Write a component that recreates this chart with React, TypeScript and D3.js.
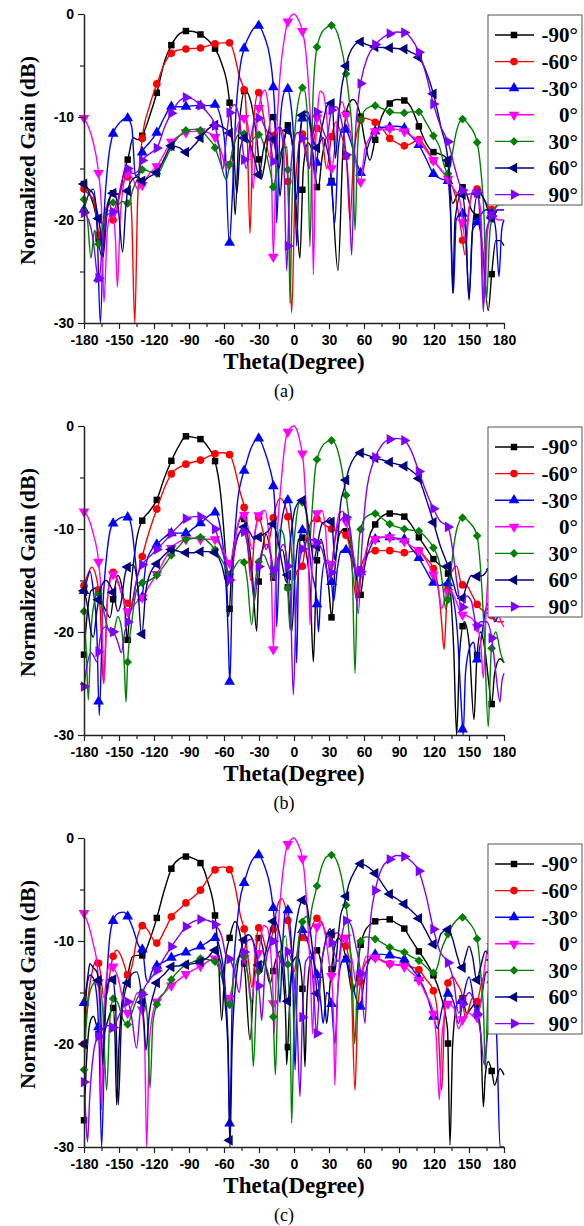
import React, { useEffect, useRef } from 'react';
import * as d3 from 'd3';

type Pt = [number, number];

// ---- panel (a) ----
const aM90: Pt[] = [[-180,-16.5],[-175,-17.5],[-170,-19.4],[-165,-23.5],[-160,-18.5],[-155,-17.4],[-150,-17.5],[-146,-15.5],[-142,-13.9],[-138,-12],[-134,-12.2],[-130,-11.8],[-124,-10],[-117,-7.4],[-111,-4.6],[-105,-3.0],[-98,-1.9],[-92,-1.65],[-86,-1.7],[-80,-2.0],[-74,-2.5],[-68,-3.3],[-62,-4.8],[-56,-7.8],[-53,-12],[-50.5,-19.5],[-47,-11],[-42,-7.4],[-37,-8.5],[-32,-12],[-28,-16],[-25,-14.5],[-19,-9.8],[-15,-12],[-12,-17.7],[-9,-13],[-5,-10.8],[-1,-13],[2,-19],[5,-23.7],[8,-15],[12,-12.5],[16,-13.5],[20.6,-17.1],[24,-14],[28,-12],[32,-16],[37.7,-24.9],[42,-13],[46,-9],[50.6,-8.3],[56.6,-9.7],[61,-12.5],[65,-14.2],[69.4,-12.3],[75,-10],[82,-8.7],[88,-8.3],[94.6,-8.4],[100,-9],[107,-10.9],[113,-12.5],[119.4,-13.4],[125,-13.6],[131,-14],[136,-18.4],[140,-17.5],[144,-16.8],[148,-17.5],[152,-19],[156.6,-19.6],[161,-22],[166.5,-28.8],[169.4,-25.3],[173,-22],[176.6,-22],[180,-22.5]];
const aM60: Pt[] = [[-180,-17],[-176,-17.5],[-172,-18],[-169,-20],[-166,-22.4],[-162,-19],[-158,-18.5],[-155,-20],[-151,-18.5],[-147,-16.5],[-142,-15.8],[-139,-20],[-136.5,-30],[-134,-18],[-130,-12],[-124,-9],[-117,-6.6],[-111,-4.8],[-105,-3.8],[-99,-3.5],[-92.6,-3.4],[-86,-3.35],[-80,-3.3],[-74,-3.1],[-68,-2.9],[-61,-2.8],[-55,-2.8],[-51,-4],[-47,-6],[-42,-7.8],[-40,-12],[-37.7,-21.3],[-35,-11],[-30.6,-7.6],[-26,-10],[-21,-13.9],[-17,-11.5],[-12,-11],[-8,-12.5],[-5,-17],[-2,-29],[1,-17],[6.6,-11.6],[10,-13],[13,-15],[16,-13],[19.4,-11.1],[24,-12],[28,-15],[32,-12],[36,-10.5],[40,-11.5],[45,-14.2],[48,-20],[51,-14],[55,-11],[59,-10.1],[64,-10.2],[69.4,-10.5],[76,-11.2],[82.3,-12.1],[88,-12.5],[94.6,-12.8],[100,-12.6],[107,-12.2],[113,-13],[119.4,-14.2],[125,-15],[132,-16.1],[138,-17.5],[143.7,-21.3],[146.6,-23.4],[150,-19],[153.7,-17.1],[158,-17],[163,-18],[169.4,-19],[175,-18.5],[180,-18]];
const aM30: Pt[] = [[-180,-19],[-176,-17.5],[-172,-17],[-169,-20],[-166,-30],[-163,-20],[-159,-14],[-155,-11.6],[-149,-10.5],[-143,-10.1],[-139,-11],[-136,-15.7],[-133,-15.5],[-130,-13.4],[-124,-12.5],[-117,-11.4],[-111,-10],[-105,-9.0],[-98,-9],[-92.6,-9.0],[-86,-8.9],[-80,-8.9],[-74,-8.9],[-68,-8.8],[-63,-10],[-59,-13],[-55.5,-22.3],[-53,-18],[-50,-10],[-46,-5],[-42.6,-3.3],[-37,-1.8],[-31,-1.1],[-25,-2.3],[-21,-4],[-17.7,-7.2],[-16,-11],[-14.9,-20.3],[-12,-11],[-9,-7.8],[-6,-7.2],[-3,-8.5],[0,-13],[2.3,-22.5],[5,-12],[8.6,-9.8],[12,-10],[15,-12],[18,-16],[21,-13],[25,-12],[28,-13],[31,-14.7],[35,-20.3],[38,-13],[42,-11],[45,-11.3],[49,-12.5],[54,-14.5],[58,-15.5],[63,-13],[69.4,-11.4],[76,-11],[82.3,-11],[88,-10.9],[94.6,-11.1],[100,-11.8],[107,-12.7],[113,-14],[119.4,-15.5],[126,-16],[131.9,-16.2],[134,-19],[136.6,-27.1],[139,-20],[143.7,-19.3],[147,-21],[150,-27.6],[153,-21],[156.6,-20.3],[160,-19.5],[165,-19],[170,-19.5],[173,-21],[175.7,-25.5],[178,-21],[180,-20]];
const aZero: Pt[] = [[-180,-10.1],[-176,-11],[-172,-12.5],[-168,-15],[-165,-19],[-162.9,-28],[-160,-21],[-156,-19],[-153,-22],[-151.4,-26.5],[-149,-20],[-146,-16.5],[-142.6,-15.5],[-138,-16],[-134,-17],[-130,-16.6],[-124,-15.5],[-117,-14.7],[-111,-13.5],[-105,-12.4],[-98,-11.8],[-92.6,-11.5],[-86,-11.4],[-80,-11.4],[-74,-11.5],[-68,-11.9],[-62,-13.5],[-58,-15],[-55,-14.5],[-50,-11.5],[-46,-10.3],[-42,-10.1],[-38,-12],[-35,-17],[-32,-11],[-28,-8],[-25,-7.4],[-22,-9],[-19.5,-14],[-17.7,-23.6],[-15,-12],[-12,-6],[-8,-2.2],[-5,-0.65],[0,0],[4,-0.6],[7.1,-1.6],[10,-3.5],[13,-8],[15,-13],[16.6,-25.3],[18.5,-13],[20.5,-9],[22.3,-7.5],[25,-7.7],[28,-10],[30,-13],[32.3,-15],[35,-13],[38,-9.5],[41,-8.5],[44,-9.5],[47,-11],[51,-13],[56.6,-16.4],[61,-13],[65,-12],[69.4,-11.4],[76,-11.2],[82.3,-11.1],[88,-11.2],[94.6,-11.4],[100,-11.8],[107,-12.3],[113,-13.2],[119.4,-14.2],[125,-15],[132,-16],[137,-17],[142,-18],[147,-22],[150,-19],[155,-17],[160,-19],[163,-28],[166,-21],[170,-19.5],[175,-20],[180,-20]];
const aP30: Pt[] = [[-180,-18],[-177,-20],[-174,-23.7],[-171,-21],[-167,-22.4],[-163,-20],[-159,-18.5],[-155,-18.3],[-151,-18.5],[-147,-18.2],[-142,-18.4],[-138,-17],[-134,-16],[-130,-15.1],[-124,-15.3],[-117,-15.5],[-111,-14.3],[-105,-12.9],[-98,-11.8],[-92.6,-11.3],[-86,-11.2],[-80,-11.3],[-74,-12],[-68,-12.9],[-63,-14.5],[-58,-16.1],[-55,-14.5],[-51,-12.5],[-46,-11.5],[-42,-11.7],[-38,-12.5],[-34,-12],[-30,-11.7],[-25,-13],[-20,-15.5],[-17.7,-16.8],[-13,-14],[-9,-13],[-6,-12.9],[-4.5,-20],[-3.4,-28.1],[-2,-20],[0,-13],[3,-9],[8,-7.1],[11,-9],[13.7,-22.6],[16,-9],[18.9,-3.8],[23,-2],[28,-1.3],[32.3,-1.1],[37,-1.8],[40,-3],[43.7,-5.1],[47,-8],[50,-12],[52.3,-21],[54.5,-13],[56.6,-10.5],[62,-9.2],[69.4,-8.9],[76,-9.2],[82.3,-9.5],[88,-9.6],[94.6,-9.6],[100,-9.5],[107,-9.5],[113,-10.5],[119.4,-11.8],[125,-13],[129,-14.8],[132,-15.5],[135,-14],[139,-11.5],[144.6,-10.2],[150,-10.8],[156.6,-12.3],[160,-15],[163,-20],[165,-27.8],[168,-21],[172,-19],[176,-18.5],[180,-18.5]];
const aP60: Pt[] = [[-180,-16.5],[-176,-17],[-172,-17.5],[-169,-19],[-166,-21],[-163.7,-23.6],[-160,-19],[-155,-17.4],[-151,-18.5],[-146.9,-23.1],[-144,-18.5],[-142.6,-17.2],[-138,-16],[-134,-15.8],[-130,-16.2],[-124,-15.8],[-117,-15.3],[-111,-14],[-105,-12.8],[-98,-13],[-92.6,-13.4],[-86,-12.8],[-80,-12.0],[-74,-11.2],[-68,-10.8],[-61,-11],[-55,-11.6],[-52,-13],[-49,-17.4],[-46,-13],[-42,-12],[-38,-12.5],[-34,-14],[-30,-15.6],[-26,-13],[-21,-11.5],[-17,-12.5],[-13,-15],[-10,-13],[-5,-11.3],[-1,-13],[2,-18],[5,-12],[8,-9.6],[12,-9.5],[16,-12],[20,-13],[24,-11],[28,-9],[31,-8.5],[33,-9],[35.5,-14],[38,-10.5],[41,-7],[43,-5.9],[47,-4],[52,-3],[56.6,-2.7],[63,-3],[69.4,-3.2],[76,-3.25],[82.3,-3.3],[88,-3.35],[94.6,-3.4],[100,-3.7],[107,-4.2],[113,-5.5],[119.4,-7.7],[126,-11],[132,-14.2],[134,-18],[136,-27.1],[138,-20],[143.7,-17.4],[147,-20],[150,-27.8],[153,-21],[158,-17.3],[163,-18],[169.4,-19.8],[175,-19],[180,-19]];
const aP90: Pt[] = [[-180,-19.3],[-176,-20],[-172,-22],[-169,-25],[-167,-25.7],[-164,-22],[-160,-19.5],[-155,-19.2],[-151,-18],[-147,-16],[-142.6,-15],[-138,-15.5],[-134,-15.3],[-130,-14.2],[-124,-13.6],[-117,-12.9],[-111,-11],[-105,-9.6],[-98,-8.4],[-92,-8.1],[-86,-8.3],[-80,-8.9],[-74,-9.6],[-68,-10.7],[-64,-13],[-61,-15.1],[-58,-12],[-55,-9.5],[-51,-8.8],[-47,-10],[-44,-13],[-41,-15],[-37,-12],[-33,-10.2],[-29,-10.1],[-25,-11],[-21,-12],[-17,-14.5],[-13,-11],[-9,-13],[-6.3,-24.9],[-4,-17.7],[-1,-13],[3,-11.5],[6.6,-11.9],[10,-13.5],[13,-15],[16,-12],[20,-9.5],[24,-11],[28,-12],[32.3,-9.3],[36,-9],[40,-10],[44,-13],[47,-17],[49.4,-23.4],[52,-13],[55,-8.5],[58,-6.2],[63,-4.2],[69.4,-3.0],[76,-2.3],[82.3,-1.9],[88,-1.75],[94.6,-1.8],[100,-2.3],[107,-3.7],[113,-5.8],[119.4,-8.7],[126,-11],[132,-12.4],[138,-15],[143.7,-17],[150,-17.5],[156.6,-17.3],[160,-21],[162.3,-28.9],[165,-21],[170,-19.5],[175,-19],[180,-19]];

// ---- panel (b) ----
const bM90: Pt[] = [[-180,-22.2],[-177,-18],[-174,-16],[-169,-15.7],[-165,-17],[-161,-18],[-157.7,-18.6],[-154,-16],[-151,-14.5],[-147,-16],[-144,-19],[-142.9,-20.9],[-140,-16],[-137.7,-13.4],[-134,-10.5],[-129.7,-9.1],[-124,-8.3],[-117.7,-7.2],[-111,-5],[-104.8,-3.3],[-98,-1.8],[-92.6,-1.0],[-86,-1.1],[-79.7,-1.3],[-74,-2],[-67.7,-3.4],[-63,-6.5],[-59,-12],[-56,-18.5],[-53,-13],[-49,-10],[-44,-8.8],[-40,-10.5],[-36,-14],[-32,-19.9],[-30.6,-15.8],[-27,-12],[-24,-10.5],[-20.6,-11.9],[-17,-15],[-14,-13],[-10,-12],[-7.7,-13.1],[-5,-16],[-2,-20],[1,-14],[4,-11],[6.6,-10.8],[10,-12],[14,-16],[16.6,-22.9],[19.4,-13.4],[23,-11],[27,-13],[30,-16],[32.3,-18.6],[35,-14],[39,-10.5],[43,-10],[47,-11],[51,-13],[54,-15],[56.6,-16.5],[60,-14],[64,-11],[69.4,-9.6],[75,-8.8],[81.7,-8.5],[88,-8.55],[94.6,-8.8],[100,-9.5],[107,-10.8],[113,-11.8],[119.4,-12.9],[125,-13.5],[130.9,-14.0],[134,-16],[137,-22],[139.4,-30],[142,-22],[146,-19],[150,-21],[154.3,-28.5],[156.6,-22.8],[160,-20],[164,-22],[167,-25],[169.4,-27],[172,-24],[176.6,-22.6],[180,-23]];
const bM60: Pt[] = [[-180,-15.5],[-177,-14.5],[-173.4,-13.7],[-169,-14.9],[-166,-18],[-163.4,-25],[-160,-17],[-157,-14.5],[-154.9,-14.2],[-151,-15],[-147,-16.5],[-142.6,-17.2],[-140,-17.5],[-136,-15.5],[-129.7,-12.5],[-124,-10.2],[-117.7,-8.1],[-111,-6],[-104.8,-4.6],[-98,-4],[-92.6,-3.7],[-86,-3.5],[-79.7,-3.3],[-74,-3],[-67.7,-2.7],[-61,-2.6],[-54.9,-2.8],[-50,-4.5],[-46,-6.5],[-42.6,-8.0],[-40,-11],[-37,-15],[-34,-11],[-30.6,-8.9],[-27,-10],[-24,-12],[-21,-11],[-17,-8.5],[-12,-7.0],[-6.3,-8.2],[-3,-11],[0,-15],[3,-14],[6.6,-13.8],[10,-11.5],[14,-9.5],[19.4,-9.0],[25,-9.5],[32.3,-10.0],[38,-10.2],[44.6,-10.6],[48,-12],[51,-15],[54,-17],[57,-14],[62,-12.5],[69.4,-12.1],[76,-12.1],[81.7,-12.1],[88,-12.2],[94.6,-12.3],[100,-12.2],[107,-12.1],[113,-12.8],[119.4,-13.8],[124,-16],[126.5,-19],[128.6,-21.7],[131,-17],[134,-14.5],[139.4,-13.6],[143.7,-15.4],[148,-15.5],[153,-16.5],[158,-17.5],[163,-18],[169.4,-18.4],[175,-19],[180,-19]];
const bM30: Pt[] = [[-180,-16],[-177,-14.8],[-174.9,-14.1],[-172,-16],[-169,-20],[-166.9,-28.1],[-164,-18],[-160,-12],[-156.3,-9.7],[-150,-9],[-145,-8.8],[-142,-8.9],[-139,-10],[-136,-13],[-133,-16.5],[-131,-17],[-127,-13.5],[-122,-12],[-117.7,-11.5],[-111,-10.8],[-104.8,-10.4],[-98,-10.4],[-92.6,-10.4],[-86,-9.9],[-79.7,-9.4],[-74,-8.8],[-67.7,-8.4],[-63,-10],[-59,-14],[-56.5,-20],[-55,-25],[-53,-16],[-49,-8],[-45,-5.2],[-42.6,-4.3],[-37,-2.2],[-30.6,-1.2],[-25,-2.5],[-21,-4],[-17.7,-5.9],[-16,-9],[-14.9,-19.5],[-12,-11],[-8,-7.8],[-4.9,-7.2],[-2,-9],[0,-13],[2.3,-23],[4,-13],[6.6,-10.2],[9,-10],[12,-11],[15,-14],[19.4,-16.8],[21,-20],[23,-16],[27,-13],[32,-15],[34,-17],[37,-14],[40,-12.2],[43.7,-12.0],[48,-12.5],[53,-14],[58,-14.2],[63,-12.5],[69.4,-11.0],[76,-10.8],[81.7,-10.8],[88,-10.9],[94.6,-11.0],[100,-11.8],[107,-12.8],[113,-14],[119.4,-15.2],[125,-15.5],[131,-15.2],[136,-16.5],[140,-20],[143.7,-27.8],[145,-30],[147,-24],[150.9,-21.4],[154,-21],[156.6,-22.7],[160,-21],[164,-18],[168,-17],[172,-19],[176.6,-18],[180,-17.5]];
const bZero: Pt[] = [[-180,-8.3],[-176,-9],[-172,-10.5],[-167.7,-13],[-165,-17],[-162.9,-25],[-160,-17],[-157,-14.8],[-154.9,-14.4],[-150,-15.5],[-146,-17],[-142.6,-18],[-138,-17.5],[-134,-17],[-129.7,-16.6],[-124,-15.5],[-117.7,-14.4],[-111,-13],[-104.8,-11.8],[-98,-11.2],[-92.6,-11],[-86,-10.9],[-79.7,-11],[-74,-11],[-67.7,-11],[-61,-12],[-54.9,-13.3],[-52,-12],[-48,-9.5],[-44,-8.5],[-40,-9.5],[-36,-12],[-33,-10],[-29,-8.4],[-25,-8.2],[-22,-10],[-19.5,-14],[-17.7,-21.7],[-15,-12],[-11,-5.5],[-8,-2],[-5.7,-0.65],[0,0],[5.1,-1.5],[8,-3.5],[10.5,-8],[12.5,-13],[13.7,-19.3],[16,-12],[19,-8.6],[23.7,-8.2],[27,-10],[29,-13],[32.3,-13.4],[35,-11],[39,-8.4],[42,-8.3],[46,-10],[50,-12],[54,-14],[58,-14.4],[62,-12],[69.4,-11],[76,-10.8],[81.7,-10.8],[88,-11],[94.6,-11.2],[100,-11.6],[107,-12.1],[113,-13],[119.4,-14.4],[124,-16],[126.6,-17.7],[130,-16.5],[134,-16],[139,-17],[143.7,-18.3],[150,-18.5],[156.6,-19.4],[160,-21],[162.3,-24.5],[165,-17],[168,-13],[171,-14],[175,-18],[180,-19.5]];
const bP30: Pt[] = [[-180,-18],[-178,-22],[-176.3,-26.6],[-174,-20],[-171,-17],[-168.6,-16.2],[-165,-17],[-161,-19],[-158,-20],[-154.9,-20],[-151,-18.5],[-148,-19.5],[-145.5,-23],[-144,-26.8],[-142.6,-23],[-139,-19],[-135,-16],[-129.7,-15.2],[-124,-15],[-117.7,-14.5],[-111,-13.5],[-104.8,-12.5],[-98,-11.6],[-92.6,-11],[-86,-10.9],[-79.7,-10.8],[-74,-11.2],[-67.7,-12],[-61,-13.2],[-54.9,-14.4],[-50,-13.5],[-46,-13],[-43.4,-13.1],[-40,-15],[-36.3,-19.3],[-33,-15],[-30.6,-13.3],[-26,-12.5],[-22,-13.5],[-17.7,-14.4],[-15,-12],[-12,-10],[-9,-10.5],[-6,-14],[-3.4,-19.8],[-1,-13],[2,-9],[5.1,-7.3],[8,-7.5],[11,-9],[13,-12],[15,-9],[18.6,-3.9],[24,-2],[28,-1.55],[32.3,-1.4],[37,-2.2],[42.9,-5.5],[47,-9],[50,-14],[52.3,-24],[54.5,-14],[56.6,-10.3],[62,-8.8],[69.4,-8.5],[76,-9],[81.7,-9.5],[88,-9.8],[94.6,-10],[100,-10.1],[107,-10.2],[113,-10.8],[119.4,-11.8],[125,-13.5],[128,-16],[130,-17.8],[133,-16],[136,-12.5],[140,-9.8],[144.6,-8.9],[150,-9.3],[156.6,-10.5],[160,-14],[163,-20],[166.5,-29.2],[169,-22],[173,-20],[177,-22],[180,-23]];
const bP60: Pt[] = [[-180,-16],[-177,-17.5],[-174,-20],[-172,-20.5],[-169,-18],[-165,-15.5],[-161,-15],[-157.5,-15.5],[-154.9,-16.2],[-151,-18],[-148,-17],[-145,-14.5],[-142.6,-13.7],[-138,-13.5],[-134,-15.5],[-130.6,-20.4],[-127,-16],[-122,-14],[-117.7,-13.4],[-111,-12.5],[-104.8,-12],[-98,-12.2],[-92.6,-12.3],[-86,-12.3],[-79.7,-12.2],[-74,-12.2],[-67.7,-12.3],[-62,-13.5],[-57,-15.5],[-54,-14],[-50,-11.5],[-46,-10.2],[-42,-9.8],[-38,-10.3],[-34,-11],[-30.6,-10.8],[-26,-10.5],[-22,-10.2],[-18,-9.5],[-14,-11],[-10,-13.5],[-6.3,-15.2],[-3,-11],[1,-8],[6.6,-7.2],[10,-8],[14,-11],[17,-13],[20,-11.5],[24,-9.5],[28,-9.2],[30.9,-8.9],[33,-10],[35,-13],[37.5,-11],[40,-7.5],[42.9,-6.1],[47,-4.2],[52,-3],[56.6,-2.6],[62,-2.8],[69.4,-3.1],[76,-3.3],[81.7,-3.5],[88,-3.7],[94.6,-3.9],[100,-4.3],[107,-5.1],[113,-7],[119.4,-9.3],[125,-11.5],[132,-13.6],[136,-15],[140,-16.5],[143.7,-16.8],[148,-15.5],[152,-14.5],[156.6,-14.6],[162,-14.5],[166,-14],[169.4,-13.9],[173,-14.5],[177,-16.5],[180,-17]];
const bP90: Pt[] = [[-180,-25.3],[-177,-23],[-174,-22],[-171,-22.5],[-169,-22.9],[-166,-20.5],[-162,-19.5],[-158,-19.8],[-154.9,-20],[-151,-21],[-148,-22],[-145,-20],[-142,-18.8],[-138,-17],[-134,-14.5],[-129.7,-13.4],[-124,-12.7],[-117.7,-12],[-111,-11.2],[-104.8,-10.4],[-98,-9.6],[-92.6,-9],[-86,-8.8],[-79.7,-8.8],[-74,-9.2],[-67.7,-10],[-62,-12],[-57,-14],[-54.9,-15],[-52,-13],[-48,-10.5],[-43.4,-10.2],[-40,-11.5],[-37,-14],[-34,-17],[-30.6,-13.9],[-27,-12],[-23,-11.5],[-19,-13],[-16,-15],[-13,-12.5],[-9,-11.5],[-6,-13],[-3,-17],[-0.6,-26.1],[2,-17],[5,-13],[9,-11.5],[13,-11],[19.4,-11.3],[24,-12],[28,-14],[31,-15],[34,-12],[38,-9.5],[43.7,-8.8],[48,-10],[52,-14],[55.1,-18.2],[58,-12],[62,-6.5],[69.4,-3.1],[75,-1.9],[81.7,-1.3],[88,-1.2],[94.6,-1.4],[100,-2.3],[107,-4.4],[113,-6.3],[119.4,-8.0],[125,-9.2],[132,-9.8],[136,-12],[140,-15.5],[143.7,-17.7],[148,-16.5],[152,-17],[156.6,-19.4],[160,-19],[165,-19],[170,-21],[173,-24],[176.6,-26.8],[178,-25],[180,-24]];

// ---- panel (c) ----
const cM90: Pt[] = [[-180,-27.4],[-178,-22],[-175,-18],[-172,-17.3],[-169,-18.3],[-166,-19.5],[-163,-19],[-159,-17.5],[-155,-16.5],[-153.5,-19],[-152,-25.9],[-150,-20],[-147,-15.5],[-142.6,-13.3],[-138.3,-11.5],[-134,-11.4],[-129.7,-11.4],[-124,-10],[-117.7,-7.8],[-111,-5],[-104.8,-2.9],[-98,-2],[-92.6,-1.8],[-86,-2],[-79.7,-2.5],[-74,-4.2],[-67.7,-7.5],[-65,-11],[-62,-17.7],[-59,-12],[-55.4,-9.8],[-50.6,-8.1],[-46,-9.5],[-42,-13],[-37.7,-19.6],[-34,-13],[-30.6,-9.7],[-27,-10.5],[-24,-12.5],[-20.6,-14.1],[-16,-12],[-12,-11],[-9,-14],[-7,-18],[-6.3,-22],[-4,-16.7],[-1,-12],[3,-11.5],[6.6,-13.5],[8,-17],[9.4,-22.2],[11,-16],[14,-12],[19.4,-10.9],[23,-12],[26,-15],[28,-18],[31,-14],[35,-10.5],[38,-9.7],[42,-10.5],[46,-12.5],[50,-15],[53,-14],[56.6,-10.7],[62,-8.8],[69.4,-8.1],[75,-7.9],[81.7,-7.9],[88,-8.3],[94.6,-8.8],[100,-9.8],[106.4,-10.9],[113,-12],[119.4,-13.3],[125,-15],[131.6,-18.6],[133.7,-29.8],[136,-20],[140,-16],[144,-15.5],[148,-17],[152,-16.5],[156,-16],[160,-19],[162.3,-26.1],[164,-23],[166.5,-21.7],[169.4,-22.6],[172,-24],[176.6,-22.4],[180,-23]];
const cM60: Pt[] = [[-180,-20],[-177,-16],[-173,-13],[-169,-11.8],[-166,-13],[-163,-15.5],[-160,-15],[-157,-12.5],[-152,-10.9],[-148,-11.5],[-145,-12.5],[-142.6,-13.3],[-139,-12.5],[-135,-10],[-129.7,-8.5],[-125,-9],[-121,-9.8],[-117.7,-10.2],[-111,-9],[-104.8,-7.6],[-98,-6.9],[-92.6,-6.3],[-86,-5.7],[-79.7,-5.0],[-74,-4],[-67.7,-3.1],[-61,-2.8],[-54.9,-3.1],[-50,-5],[-46,-7.5],[-42.6,-8.9],[-39,-12],[-36,-14.5],[-33,-11],[-30.6,-8.7],[-27,-9.5],[-23,-11],[-18,-9],[-14,-6.5],[-10.5,-5.9],[-6.3,-7.3],[-3,-10],[0,-13],[3,-11],[6.6,-9.6],[10,-10],[14,-9],[19.4,-7.8],[24,-8.3],[28,-9.3],[32.3,-9.4],[37,-9.2],[41,-9.8],[45.2,-10.7],[49,-14],[52.3,-24.5],[54.5,-17],[56.6,-14.4],[60,-12.5],[64,-11.8],[69.4,-11.6],[76,-11.9],[81.7,-12.2],[88,-12.3],[94.6,-12.3],[100,-12.5],[107,-12.8],[113,-13.7],[119.4,-14.8],[123,-17],[126.6,-24.5],[129,-17],[131.6,-14.2],[136,-13.5],[140,-14.2],[143.7,-15.1],[147,-17.5],[150,-16.5],[153,-15.5],[156.6,-15.9],[161,-14],[165,-13],[170,-13.5],[175,-14.5],[180,-15]];
const cM30: Pt[] = [[-180,-16],[-177,-14],[-174.9,-13.3],[-172,-13.6],[-169,-15.4],[-167,-20],[-164.9,-30],[-162,-18],[-159,-11],[-156.3,-8.5],[-150.6,-7.3],[-146,-7.2],[-142.6,-7.6],[-138,-8.8],[-133,-10.5],[-129.7,-10.9],[-127,-13.5],[-125,-14],[-122,-13],[-117.7,-12.4],[-111,-12],[-104.8,-11.6],[-98,-11.3],[-92.6,-11.1],[-86,-10.8],[-79.7,-10.5],[-74,-10.1],[-67.7,-9.7],[-63,-11],[-59,-14.5],[-56.5,-20],[-55,-28],[-53,-16],[-49,-8.5],[-46,-5.8],[-42.6,-4.3],[-37,-2.4],[-30.6,-1.65],[-25,-2.8],[-20,-5],[-16.3,-8.6],[-14,-13],[-12,-16],[-10,-11],[-8,-7.5],[-6.3,-6.8],[-3,-9],[-1,-14],[0.9,-22.5],[3,-13],[6.6,-8.9],[10,-9.5],[14,-11],[19.4,-13.1],[23,-16],[25,-18],[28,-15],[32,-16],[35,-20],[38,-14],[41,-12],[43.7,-11.7],[48,-13],[53,-15.5],[56.6,-16.5],[60,-14],[64,-12],[69.4,-11.3],[76,-11.3],[81.7,-11.4],[88,-11.6],[94.6,-11.8],[100,-12.5],[107,-13.6],[113,-15],[119.4,-17.3],[123,-18.5],[127,-16.5],[132,-15.1],[137,-16],[141,-18],[145,-15.5],[150,-13.5],[156.6,-17],[160,-16],[165,-13],[170,-14],[174,-20],[176.6,-30],[180,-30]];
const cZero: Pt[] = [[-180,-7.3],[-176,-8.5],[-172,-10.3],[-168.6,-12.5],[-166.5,-17],[-165,-26.4],[-163,-17],[-160,-13],[-157,-12.2],[-154.9,-12.5],[-151,-13.5],[-147,-15.5],[-142.6,-17],[-138,-16],[-134,-15],[-131,-16],[-128,-20],[-126.3,-30],[-124,-20],[-121,-17],[-117.7,-15.9],[-111,-15],[-104.8,-14.3],[-98,-13.7],[-92.6,-13.2],[-86,-12.8],[-79.7,-12.4],[-74,-12],[-67.7,-11.7],[-62,-13],[-57,-16],[-54,-15],[-50,-12.5],[-46,-11.3],[-43.4,-11.5],[-40,-13],[-37,-16],[-34,-14],[-30,-11],[-26,-8.5],[-23,-8.7],[-20,-11],[-18,-15],[-17,-19],[-15,-12],[-11,-5],[-8,-2],[-5.7,-0.7],[0,0],[3,-0.5],[6.6,-1.65],[9,-3.5],[11.5,-7.5],[14,-13],[16,-19],[18,-11],[20,-8.5],[23.7,-8.1],[27,-9.5],[30,-12],[32.3,-13.6],[34,-18],[35,-24],[37,-16],[40,-11],[43,-9.5],[46,-10],[50,-12],[54,-14.5],[58,-13],[62,-11.5],[69.4,-11.6],[76,-12],[81.7,-12.2],[88,-12.3],[94.6,-12.5],[100,-13],[107,-13.8],[113,-15.2],[119.4,-17],[122,-19.5],[124.6,-25.4],[127,-19],[132,-16.1],[137,-16.5],[141,-18.5],[145,-17.5],[150,-17],[156,-17.5],[160,-16],[164,-12],[168,-10.2],[172,-12],[176,-16],[180,-18]];
const cP30: Pt[] = [[-180,-22.5],[-178,-18],[-175,-15],[-171,-14],[-167.7,-13.8],[-164,-16.5],[-160.6,-24.5],[-158,-18],[-154.9,-15.6],[-151,-16],[-147,-17.5],[-142.6,-18.1],[-139,-17],[-134,-15.5],[-129.7,-15],[-126,-17],[-123.4,-24.3],[-121,-18],[-117.7,-16.2],[-111,-15],[-104.8,-13.7],[-98,-12.8],[-92.6,-12.3],[-86,-12],[-79.7,-11.7],[-74,-11.8],[-67.7,-12],[-62,-13.5],[-57,-16],[-54.9,-16.2],[-51,-13],[-47,-11.5],[-43.4,-11.4],[-40,-13],[-37,-16],[-34.9,-22.2],[-32,-15],[-28,-12],[-24,-12.5],[-20,-14.5],[-17.7,-17.5],[-16,-23],[-14,-16],[-10,-10],[-7,-9.5],[-5,-13],[-3,-20],[-2,-27.7],[0,-18],[3,-11],[7,-8.2],[10.9,-7.6],[13,-8.5],[15,-7],[18.6,-5.2],[24,-2.7],[28,-1.8],[32.3,-1.65],[37,-2.3],[42.9,-5.2],[47,-9],[50,-14],[52,-20],[54,-15],[56.6,-10.1],[62,-9.6],[69.4,-9.8],[76,-10.2],[81.7,-10.6],[88,-10.9],[94.6,-11.1],[100,-11.5],[107,-11.9],[113,-12.5],[119.4,-13.1],[123,-12.5],[126,-11],[130.9,-9.6],[137,-8.3],[144.6,-7.7],[150,-8.2],[156.6,-9.6],[160,-13],[162.5,-17],[164,-22.5],[166,-16],[169.4,-12.7],[174,-13],[180,-14]];
const cP60: Pt[] = [[-180,-20],[-178,-15],[-176,-12.8],[-174.9,-12.2],[-172,-12.6],[-169,-13],[-166,-16],[-164,-22],[-162,-17],[-159,-14],[-156,-13.5],[-153,-16],[-150.6,-25.9],[-148,-18],[-145,-15],[-142.6,-14.1],[-139,-13.2],[-135,-13],[-131,-15],[-128.5,-18],[-126.9,-20.6],[-124,-17],[-120,-15],[-117.7,-14.1],[-111,-13.2],[-104.8,-12.5],[-98,-12.4],[-92.6,-12.3],[-86,-12.2],[-79.7,-12.0],[-74,-11.6],[-67.7,-10.9],[-63,-12],[-59,-16],[-56.5,-21],[-54.9,-30],[-53,-20],[-49,-13],[-44,-10.3],[-39,-9.4],[-35,-10],[-31,-12],[-28,-13],[-25,-11.5],[-21,-9.5],[-17,-8],[-13,-9],[-9,-12],[-6,-16],[-3,-14],[0,-10],[4,-7],[8,-6.0],[11,-6.5],[14,-9],[18,-13],[21,-16],[23,-13],[27,-10],[30.9,-8.8],[33,-10],[35,-13],[37.5,-10],[40,-7.5],[42.9,-6.5],[47,-4.5],[52,-3.2],[56.6,-2.5],[62,-2.7],[69.4,-3.4],[76,-4.5],[81.7,-5.4],[88,-5.9],[94.6,-6.4],[100,-7],[107,-7.8],[113,-9],[119.4,-10.3],[122,-10.5],[126,-9.3],[132,-8.9],[135,-9.5],[140,-11.5],[143.7,-12.7],[147,-11.5],[150,-10.5],[153,-11.5],[156.6,-13.8],[160,-12.5],[164,-11],[168,-11.5],[172,-12.5],[176,-13],[180,-13.5]];
const cP90: Pt[] = [[-180,-23.7],[-178.5,-27],[-177,-29.5],[-175,-25],[-172,-21],[-169,-19.5],[-167.7,-19.3],[-164,-18.5],[-160,-18.2],[-154.9,-18.4],[-151,-17.5],[-146,-16.3],[-142.6,-15.9],[-139,-17.5],[-135,-20.4],[-132,-17],[-129.7,-15],[-124,-13.8],[-117.7,-12.9],[-111,-11.6],[-104.8,-10.5],[-98,-9.4],[-92.6,-8.6],[-86,-8.1],[-79.7,-7.9],[-74,-8],[-67.7,-8.4],[-62,-9.5],[-58,-11.5],[-54.9,-11.8],[-51,-13],[-47,-15],[-44,-12],[-40,-10],[-36,-9.8],[-33,-11.5],[-30.6,-13.9],[-29,-16],[-27.7,-17.7],[-25,-13],[-21,-10.5],[-17,-10],[-13,-11.5],[-9,-12.5],[-6,-11],[-2,-12],[1,-15],[3,-19],[5.1,-25.1],[7,-18],[10,-12],[14,-11.5],[17,-15],[19.4,-19.1],[22,-14],[26,-10.5],[30,-9.5],[34,-11],[38,-12],[41,-9.5],[45.2,-8],[49,-8.5],[53,-10.5],[57,-13],[60.9,-18],[63,-12],[66,-7.5],[69.4,-5.2],[75,-3],[81.7,-2.1],[88,-1.7],[94.6,-1.8],[100,-2.2],[107,-3.2],[113,-5.5],[119.4,-8.8],[125,-11],[132,-12.1],[137,-14],[141,-17],[145,-16],[150,-15],[156.6,-16.9],[160,-19],[163,-22],[166,-19],[170,-16],[175,-14],[180,-16]];

const seriesNames = ['-90°', '-60°', '-30°', '0°', '30°', '60°', '90°'];
const seriesColors = ['#000000', '#FF0000', '#0000FF', '#FF00FF', '#008000', '#000080', '#8000FF'];
const captions = ['(a)', '(b)', '(c)'];
const xTicks = [-180, -150, -120, -90, -60, -30, 0, 30, 60, 90, 120, 150, 180];
const xMinor = [-165, -135, -105, -75, -45, -15, 15, 45, 75, 105, 135, 165];
const yTicks = [0, -10, -20, -30];
const yMinor = [-5, -15, -25];

const panels = [
  [aM90, aM60, aM30, aZero, aP30, aP60, aP90],
  [bM90, bM60, bM30, bZero, bP30, bP60, bP90],
  [cM90, cM60, cM30, cZero, cP30, cP60, cP90],
];

// layout
const W = 584, H = 1226;
const plotLeft = 84, plotRight = 504, plotH = 309;
const panelTops = [14, 426, 838];
const legendTopOffset = [1, 1, 6];
const SERIF = '"Liberation Serif", "Times New Roman", serif';
const SANS = '"Liberation Sans", Arial, sans-serif';

// symbol per series: [type, rotation, area]
const symbolTypes: [d3.SymbolType, number, number][] = [
  [d3.symbolSquare, 0, 42],
  [d3.symbolCircle, 0, 46],
  [d3.symbolTriangle, 0, 50],
  [d3.symbolTriangle, 180, 50],
  [d3.symbolSquare, 45, 38],
  [d3.symbolTriangle, -90, 50],
  [d3.symbolTriangle, 90, 50],
];

export default function App() {
  const ref = useRef<SVGSVGElement>(null);

  useEffect(() => {
    const svg = d3.select(ref.current);
    svg.selectAll('*').remove();
    const defs = svg.append('defs');

    const x = d3.scaleLinear().domain([-180, 180]).range([plotLeft, plotRight]);
    // Origin-style symbols every ~12.5 degrees along the curve
    const markerThetas = d3.range(29).map(k => -180 + k * 12.48);

    const findY = (node: SVGPathElement, tx: number) => {
      const total = node.getTotalLength();
      let lo = 0, hi = total;
      for (let i = 0; i < 28; i++) {
        const mid = (lo + hi) / 2;
        if (node.getPointAtLength(mid).x < tx) lo = mid; else hi = mid;
      }
      return node.getPointAtLength((lo + hi) / 2).y;
    };

    panels.forEach((series, pi) => {
      const top = panelTops[pi];
      const bottom = top + plotH;
      const y = d3.scaleLinear().domain([-30, 0]).range([bottom, top]);
      const g = svg.append('g');

      const clipId = `plot-clip-${pi}`;
      defs.append('clipPath').attr('id', clipId)
        .append('rect')
        .attr('x', plotLeft).attr('y', top - 3)
        .attr('width', plotRight - plotLeft + 2).attr('height', plotH + 3);

      const line = d3.line<Pt>()
        .x(d => x(d[0]))
        .y(d => y(d[1]))
        .curve(d3.curveMonotoneX);

      series.forEach((data, si) => {
        const color = seriesColors[si];
        const [type, rot, size] = symbolTypes[si];
        const path = g.append('path')
          .datum(data)
          .attr('d', line)
          .attr('fill', 'none')
          .attr('stroke', color)
          .attr('stroke-width', 1.4)
          .attr('clip-path', `url(#${clipId})`);
        const node = path.node() as SVGPathElement;
        const sym = d3.symbol().type(type).size(size)();
        markerThetas.forEach(t => {
          const px = x(t);
          const py = findY(node, px);
          if (py > bottom - 1) return;
          g.append('path')
            .attr('d', sym)
            .attr('transform', `translate(${px},${py}) rotate(${rot})`)
            .attr('fill', color);
        });
      });

      // axes
      const axisColor = '#222';
      g.append('g')
        .attr('transform', `translate(0,${bottom})`)
        .call(d3.axisBottom(x).tickValues(xMinor).tickSize(4))
        .call(a => {
          a.select('.domain').remove();
          a.selectAll('.tick text').remove();
          a.selectAll('.tick line').attr('stroke', axisColor).attr('stroke-width', 1.2);
        });
      g.append('g')
        .attr('transform', `translate(0,${bottom})`)
        .call(d3.axisBottom(x).tickValues(xTicks).tickSize(6).tickSizeOuter(0).tickPadding(6).tickFormat(d => String(d)))
        .call(a => {
          a.select('.domain').attr('stroke', axisColor).attr('stroke-width', 1.5);
          a.selectAll('.tick line').attr('stroke', axisColor).attr('stroke-width', 1.2);
          a.selectAll('.tick text')
            .attr('font-family', SANS).attr('font-weight', 'bold')
            .attr('font-size', 14).attr('fill', '#000');
        });
      g.append('g')
        .attr('transform', `translate(${plotLeft},0)`)
        .call(d3.axisLeft(y).tickValues(yMinor).tickSize(4))
        .call(a => {
          a.select('.domain').remove();
          a.selectAll('.tick text').remove();
          a.selectAll('.tick line').attr('stroke', axisColor).attr('stroke-width', 1.2);
        });
      g.append('g')
        .attr('transform', `translate(${plotLeft},0)`)
        .call(d3.axisLeft(y).tickValues(yTicks).tickSize(6).tickSizeOuter(0).tickPadding(4).tickFormat(d => String(d)))
        .call(a => {
          a.select('.domain').attr('stroke', axisColor).attr('stroke-width', 1.5);
          a.selectAll('.tick line').attr('stroke', axisColor).attr('stroke-width', 1.2);
          a.selectAll('.tick text')
            .attr('font-family', SANS).attr('font-weight', 'bold')
            .attr('font-size', 14).attr('fill', '#000');
        });

      // titles
      g.append('text')
        .attr('transform', `translate(35,${(top + bottom) / 2 - 8}) rotate(-90)`)
        .attr('text-anchor', 'middle')
        .attr('font-family', SERIF).attr('font-weight', 'bold').attr('font-size', 22)
        .text('Normalized Gain (dB)');
      g.append('text')
        .attr('x', (plotLeft + plotRight) / 2).attr('y', bottom + 46)
        .attr('text-anchor', 'middle')
        .attr('font-family', SERIF).attr('font-weight', 'bold').attr('font-size', 23)
        .text('Theta(Degree)');
      g.append('text')
        .attr('x', 284).attr('y', bottom + 74)
        .attr('text-anchor', 'middle')
        .attr('font-family', SERIF).attr('font-size', 18)
        .text(captions[pi]);

      // legend
      const lt = top + legendTopOffset[pi];
      const lg = g.append('g');
      lg.append('rect')
        .attr('x', 488).attr('y', lt)
        .attr('width', 94).attr('height', 190)
        .attr('fill', '#fff').attr('stroke', '#555').attr('stroke-width', 1);
      seriesNames.forEach((name, si) => {
        const ly = lt + 20 + si * 26.6;
        const color = seriesColors[si];
        const [type, rot, size] = symbolTypes[si];
        lg.append('line')
          .attr('x1', 495).attr('x2', 534).attr('y1', ly).attr('y2', ly)
          .attr('stroke', color).attr('stroke-width', 1.4);
        lg.append('path')
          .attr('d', d3.symbol().type(type).size(size)())
          .attr('transform', `translate(514,${ly}) rotate(${rot})`)
          .attr('fill', color);
        lg.append('text')
          .attr('x', 578).attr('y', ly)
          .attr('dy', '0.35em')
          .attr('text-anchor', 'end')
          .attr('font-family', SERIF).attr('font-weight', 'bold').attr('font-size', 21)
          .text(name);
      });
    });
  }, []);

  return (
    <svg
      ref={ref}
      width={W}
      height={H}
      viewBox={`0 0 ${W} ${H}`}
      style={{ position: 'absolute', left: 0, top: 0, background: '#fff' }}
    />
  );
}
